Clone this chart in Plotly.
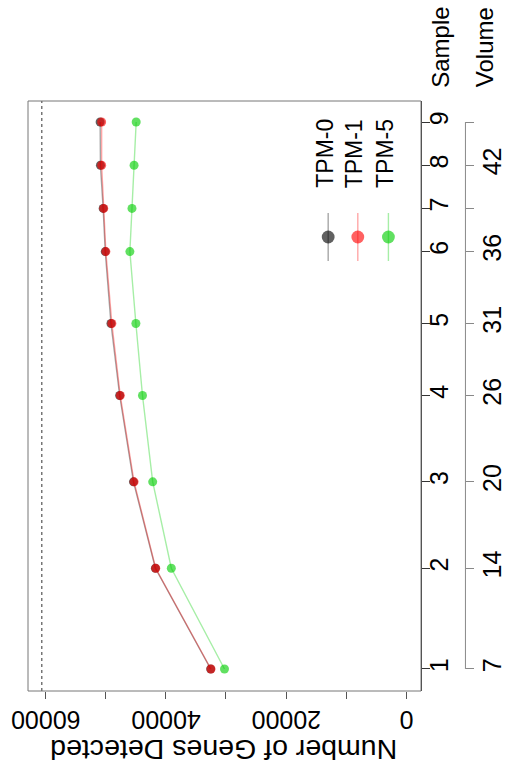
import plotly.graph_objects as go

# ---- data ----
samples = ["1", "2", "3", "4", "5", "6", "7", "8", "9"]
volumes = [7, 14, 20, 26, 31, 36, 39, 42, 45]
volume_labels = ["7", "14", "20", "26", "31", "36", "", "42", ""]
tpm0 = [32550, 41750, 45400, 47700, 49150, 50100, 50450, 50900, 50950]
tpm1 = [32500, 41700, 45300, 47600, 49000, 50000, 50350, 50700, 50700]
tpm5 = [30250, 39100, 42200, 43900, 45000, 46000, 45650, 45300, 44950]
series_names = ["TPM-0", "TPM-1", "TPM-5"]
total_genes = [60656]
gene_ticks = [0, 10000, 20000, 30000, 40000, 50000, 60000]
gene_ticktext = ["0", "", "20000", "", "40000", "", "60000"]

# ---- layout geometry (pixels) ----
W, H = 516, 772
ML, MR, MT, MB = 28, 10, 101, 81
PW, PH = W - ML - MR, H - MT - MB
PLOT_RIGHT = 426
XDOM = (PLOT_RIGHT - ML) / PW
YRANGE = [5.47, 46.46]


def px(x):
    return (x - ML) / PW


def py(y):
    return (H - MB - y) / PH


pt_cols = ["rgba(0,0,0,0.62)", "rgba(255,0,0,0.62)", "rgba(0,205,0,0.62)"]
ln_cols = ["rgba(0,0,0,0.35)", "rgba(255,0,0,0.35)", "rgba(0,205,0,0.35)"]
FONT = "Liberation Sans, Arial, sans-serif"

fig = go.Figure()

# dashed reference line (total genes)
fig.add_trace(go.Scatter(
    x=total_genes * 2, y=YRANGE, mode="lines",
    line=dict(color="#333", width=1, dash="3px,3px"), showlegend=False, hoverinfo="skip"))

for vals, name, pc, lc in zip([tpm0, tpm1, tpm5], series_names, pt_cols, ln_cols):
    fig.add_trace(go.Scatter(
        x=vals, y=volumes, mode="lines+markers", name=name,
        line=dict(color=lc, width=1.4),
        marker=dict(color=pc, size=9, line=dict(width=0)),
        showlegend=False,
    ))

# invisible trace for the volume axis
fig.add_trace(go.Scatter(x=[None], y=[None], yaxis="y2", showlegend=False, hoverinfo="skip"))

fig.update_layout(
    width=W, height=H,
    margin=dict(l=ML, r=MR, t=MT, b=MB),
    paper_bgcolor="white", plot_bgcolor="white",
    font=dict(family=FONT, color="black", size=24),
    xaxis=dict(
        domain=[0, XDOM], range=[62960, -2466], showgrid=False, zeroline=False,
        tickvals=gene_ticks, showticklabels=False,
        ticks="outside", ticklen=7, tickcolor="#555", showline=False,
    ),
    yaxis=dict(
        range=YRANGE, side="right", anchor="x", showgrid=False, zeroline=False,
        tickvals=volumes, ticktext=samples, tickangle=-90,
        ticks="outside", ticklen=8, tickcolor="#333",
        showline=True, linecolor="#333", linewidth=1,
        tickfont=dict(size=25), ticklabelstandoff=-12,
    ),
    yaxis2=dict(
        range=YRANGE, overlaying="y", side="right", anchor="free",
        position=px(471), showgrid=False, zeroline=False,
        tickvals=volumes, ticktext=volume_labels, tickangle=-90,
        ticks="outside", ticklen=8, tickcolor="#888", showline=False,
        tickfont=dict(size=25), ticklabelstandoff=-3,
    ),
)

shapes = [
    dict(type="rect", xref="paper", yref="paper", x0=0, x1=XDOM, y0=0, y1=1,
         line=dict(color="#777", width=1)),
    dict(type="line", xref="paper", yref="y", x0=px(471), x1=px(471), y0=volumes[0], y1=volumes[-1],
         line=dict(color="#888", width=1)),
]
annotations = [
    dict(text="Number of Genes Detected", xref="x", yref="paper", x=30400, y=py(750),
         xanchor="center", yanchor="middle", textangle=180, showarrow=False, font=dict(size=28.5)),
    dict(text="Sample", xref="paper", yref="paper", x=px(445), y=py(47),
         xanchor="center", yanchor="middle", textangle=-90, showarrow=False, font=dict(size=24)),
    dict(text="Volume", xref="paper", yref="paper", x=px(490), y=py(47),
         xanchor="center", yanchor="middle", textangle=-90, showarrow=False, font=dict(size=24)),
]
# bottom tick labels, upside down
for tv, tt in zip(gene_ticks, gene_ticktext):
    if tt:
        annotations.append(dict(text=tt, xref="x", yref="paper", x=tv, y=py(720),
                                xanchor="center", yanchor="middle", textangle=180,
                                showarrow=False, font=dict(size=25)))
# legend drawn by hand (rotated)
leg_x = [332, 362, 393]
for name, lx, pc, lc in zip(series_names, leg_x, pt_cols, ln_cols):
    shapes.append(dict(type="line", xref="paper", yref="paper", x0=px(lx), x1=px(lx),
                       y0=py(213), y1=py(261), line=dict(color=lc, width=1.4)))
    shapes.append(dict(type="circle", xref="paper", yref="paper",
                       x0=px(lx - 6.5), x1=px(lx + 6.5), y0=py(230.5), y1=py(243.5),
                       fillcolor=pc, line=dict(width=0)))
    annotations.append(dict(text=name, xref="paper", yref="paper", x=px(lx - 3), y=py(190),
                            xanchor="center", yanchor="bottom", textangle=-90,
                            showarrow=False, font=dict(size=23)))

fig.update_layout(shapes=shapes, annotations=annotations)
fig.write_html("out.html")
